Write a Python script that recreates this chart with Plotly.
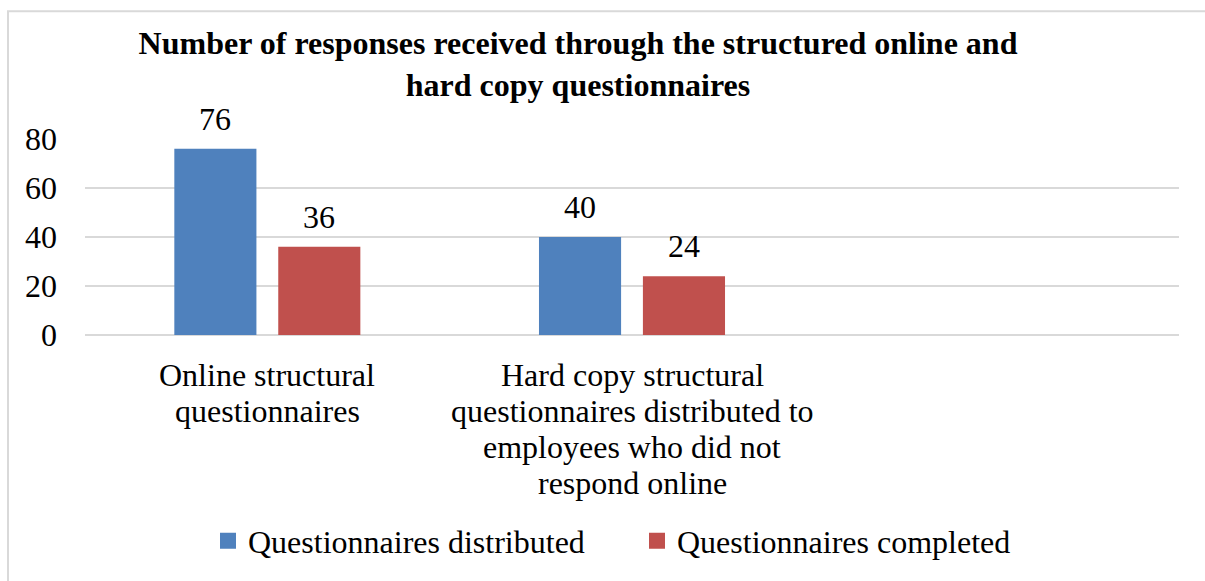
import plotly.graph_objects as go

# Survey response counts by questionnaire channel
categories = [
    "Online structural<br>questionnaires",
    "Hard copy structural<br>questionnaires distributed to<br>employees who did not<br>respond online",
    " ",
]
distributed = [76, 40, None]
completed = [36, 24, None]
series_names = ["Questionnaires distributed", "Questionnaires completed"]
y_ticks = [0, 20, 40, 60, 80]

BLUE = "#4F81BD"
RED = "#C0504D"
GRID = "#D9D9D9"
FONT = "Liberation Serif"
FS = 32

W, H = 1205, 581
L, R, T, B = 85, 26, 139, 244
PW, PH = W - L - R, H - T - B

fig = go.Figure()
for name, vals, color in ((series_names[0], distributed, BLUE),
                          (series_names[1], completed, RED)):
    fig.add_trace(go.Bar(x=categories, y=vals, name=name, showlegend=False,
                         marker=dict(color=color, line=dict(width=0))))
    # square legend key for the series
    fig.add_trace(go.Scatter(x=[None], y=[None], mode="markers", name=name,
                             marker=dict(symbol="square", size=16, color=color)))

# value labels above each bar
for vals, shift in ((distributed, -52), (completed, 52)):
    for c, v in zip(categories, vals):
        if v is None:
            continue
        fig.add_annotation(x=c, y=v, text=str(v), showarrow=False,
                           xshift=shift, yanchor="bottom", yshift=10,
                           font=dict(family=FONT, size=FS, color="#000000"))

# category labels, one line at a time for tighter line spacing
LINE = 36
for c in categories:
    for i, line in enumerate(c.split("<br>")):
        if not line.strip():
            continue
        fig.add_annotation(x=c, xref="x", y=0, yref="paper", text=line,
                           showarrow=False, yanchor="middle",
                           yshift=-(40 + LINE * i),
                           font=dict(family=FONT, size=FS, color="#000000"))

# outer chart frame (left and top edges visible)
fig.add_shape(type="rect", xref="paper", yref="paper",
              x0=(8 - L) / PW, x1=(1215 - L) / PW,
              y0=(H - B - 600) / PH, y1=(H - B - 10) / PH,
              line=dict(color="#D9D9D9", width=2), fillcolor="rgba(0,0,0,0)",
              layer="below")

fig.update_layout(
    width=W, height=H,
    margin=dict(l=L, r=R, t=T, b=B),
    paper_bgcolor="white", plot_bgcolor="white",
    font=dict(family=FONT, color="#000000"),
    barmode="group", bargap=0.43, bargroupgap=0.21,
    title=dict(
        text="<b>Number of responses received through the structured online and<br>hard copy questionnaires</b>",
        x=(578 - L) / PW, xref="paper", xanchor="center",
        y=1 - 54 / H, yanchor="middle",
        font=dict(family=FONT, size=FS, color="#000000"),
    ),
    xaxis=dict(showgrid=False, showline=False, ticks="", showticklabels=False),
    yaxis=dict(
        range=[0, 80], tickvals=y_ticks, showgrid=True, gridcolor=GRID,
        gridwidth=2, zeroline=True, zerolinecolor=GRID, zerolinewidth=2,
        showline=False, ticks="",
        tickfont=dict(family=FONT, size=FS, color="#000000"),
        ticklabelstandoff=27,
    ),
    legend=dict(
        orientation="h", x=(208 - L) / PW, xanchor="left",
        y=-(545 - (H - B)) / PH, yanchor="middle",
        font=dict(family=FONT, size=FS, color="#000000"),
        itemwidth=30, entrywidth=384, bgcolor="rgba(0,0,0,0)",
    ),
    showlegend=True,
)

fig.write_html("out.html")
